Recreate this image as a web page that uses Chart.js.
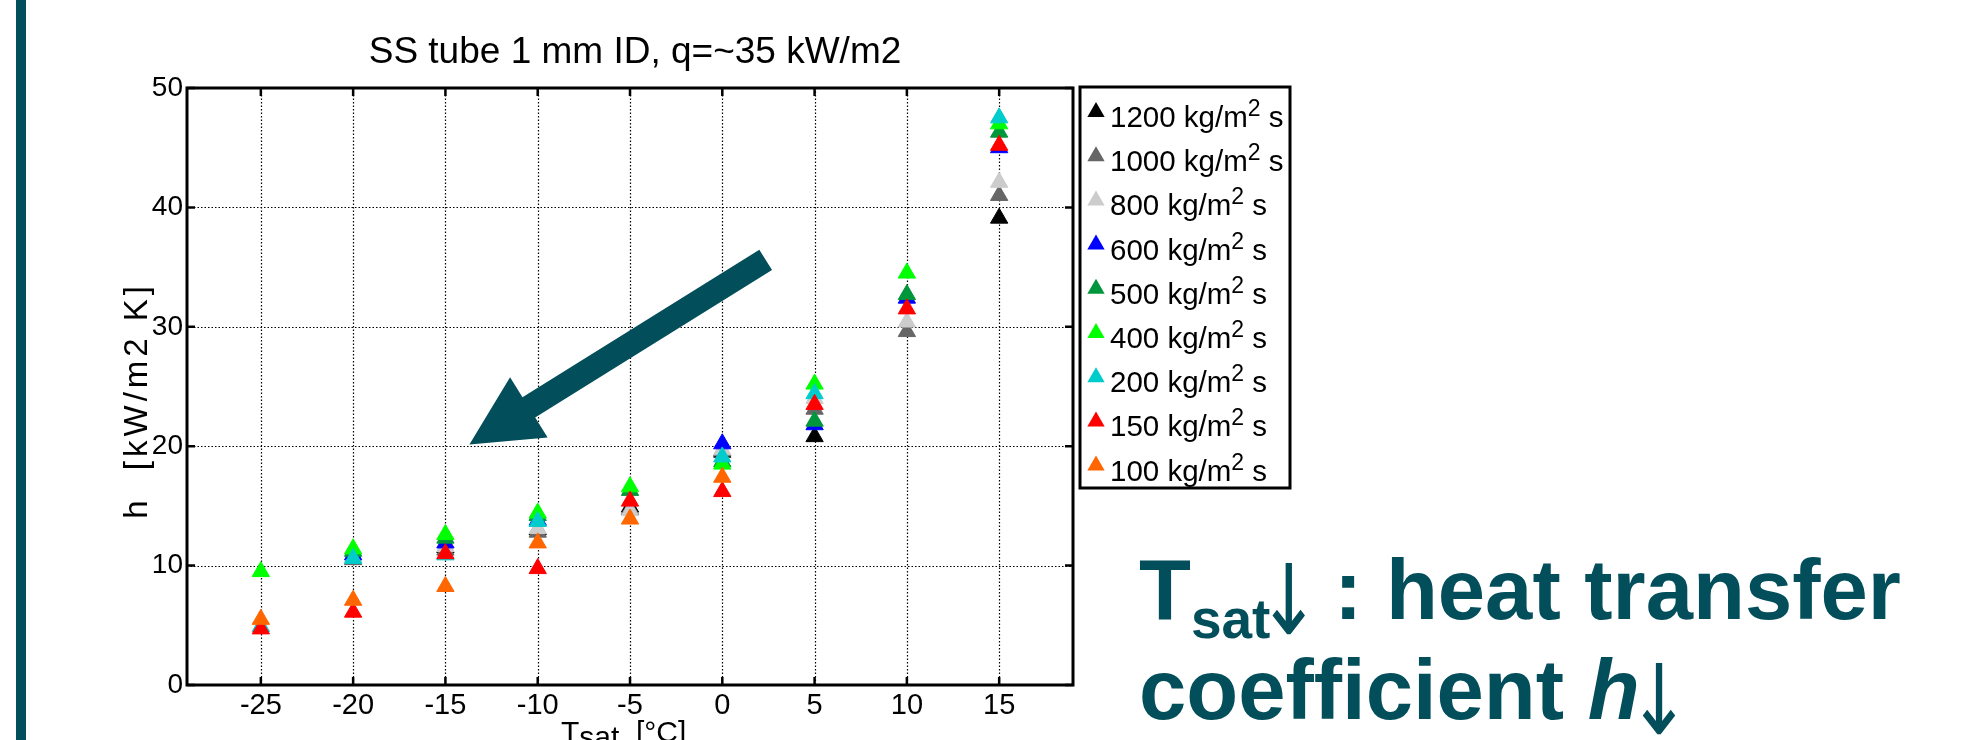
<!DOCTYPE html>
<html>
<head>
<meta charset="utf-8">
<script src="https://cdn.jsdelivr.net/npm/chart.js@4.4.0/dist/chart.umd.min.js"></script>
<style>
  body { margin: 0; background: #fff; }
  canvas { display: block; }
</style>
</head>
<body>
<canvas id="hChart" width="1963" height="740"></canvas>
<script>
// saturation temperatures [°C] and axis ticks
let tsat = [-25, -20, -15, -10, -5, 0, 5, 10, 15];
let xTicks = [-25, -20, -15, -10, -5, 0, 5, 10, 15];
let yTicks = [0, 10, 20, 30, 40, 50];

// mass flux labels [kg/m2 s]
let fluxLabels = ["1200", "1000", "800", "600", "500", "400", "200", "150", "100"];

// heat transfer coefficient h [kW/m2 K], one value per tsat (null = no point)
let h1200 = [null, null, 11.5, 13.0, 14.9, 19.5, 20.8, null, 39.1];
let h1000 = [null, 10.5, 11.3, 12.8, 14.7, 19.6, 23.1, 29.6, 41.0];
let h800  = [null, 10.7, 11.6, 13.1, 14.6, 19.7, 24.0, 30.4, 42.1];
let h600  = [null, 10.9, 11.9, 13.8, null, 20.2, 21.8, 32.4, 45.0];
let h500  = [null, 11.2, 12.3, 14.2, 16.3, 18.7, 22.1, 32.7, 46.3];
let h400  = [9.5, 11.4, 12.6, 14.4, 16.6, 18.5, 25.2, 34.5, 47.0];
let h200  = [4.9, 10.6, 10.9, 13.7, null, 19.1, 24.4, null, 47.5];
let h150  = [4.7, 6.1, 11.0, 9.75, 15.4, 16.2, 23.5, 31.5, 45.2];
let h100  = [5.5, 7.1, 8.25, 11.9, 13.9, 17.4, null, null, null];

let allSeries = [h1200, h1000, h800, h600, h500, h400, h200, h150, h100];
let seriesColors = ["#000000", "#666666", "#cccccc", "#0000ff", "#00963c", "#00ff00", "#00cccc", "#ff0000", "#ff6600"];

// annotation arrow, in data units
let arrowFrom = { x: 2.35, y: 35.6 };
let arrowTo = { x: -13.7, y: 20.15 };

let fontFam = '"Liberation Sans", Arial, sans-serif';
let teal = "#024e5a";

function triangle(ctx, x, y, r) {
    ctx.beginPath();
    ctx.moveTo(x, y - r);
    ctx.lineTo(x + 0.866 * r, y + 0.5 * r);
    ctx.lineTo(x - 0.866 * r, y + 0.5 * r);
    ctx.closePath();
    ctx.fill();
}

// thin down arrow glyph, sized so its ink is about 34 x 74 px
function downArrow(ctx, inkLeft, baseline) {
    ctx.save();
    ctx.font = '58px "DejaVu Sans", sans-serif';
    let m = ctx.measureText("\u2193");
    let inkH = m.actualBoundingBoxAscent + m.actualBoundingBoxDescent;
    let inkW = m.actualBoundingBoxLeft + m.actualBoundingBoxRight;
    ctx.translate(inkLeft, baseline + 17);
    ctx.scale(34 / inkW, 74 / inkH);
    ctx.fillText("\u2193", m.actualBoundingBoxLeft, -m.actualBoundingBoxDescent);
    ctx.restore();
}

let slideDecor = {
    id: "slideDecor",
    beforeDraw(chart) {
        let ctx = chart.ctx;
        ctx.save();
        ctx.fillStyle = "#fff";
        ctx.fillRect(0, 0, chart.width, chart.height);
        ctx.fillStyle = teal;
        ctx.fillRect(16, 0, 10, chart.height);
        ctx.restore();
    },
    beforeDatasetsDraw(chart) {
        let ctx = chart.ctx;
        let a = chart.chartArea;
        let xs = chart.scales.x;
        let ys = chart.scales.y;
        ctx.save();
        // dotted grid
        ctx.strokeStyle = "#000";
        ctx.lineWidth = 1.2;
        ctx.setLineDash([1.5, 2]);
        xTicks.forEach(v => {
            let px = Math.round(xs.getPixelForValue(v)) + 0.5;
            ctx.beginPath();
            ctx.moveTo(px, a.top);
            ctx.lineTo(px, a.bottom);
            ctx.stroke();
        });
        yTicks.forEach(v => {
            if (v <= ys.min || v >= ys.max) return;
            let py = Math.round(ys.getPixelForValue(v)) + 0.5;
            ctx.beginPath();
            ctx.moveTo(a.left, py);
            ctx.lineTo(a.right, py);
            ctx.stroke();
        });
        ctx.setLineDash([]);
        // box
        ctx.lineWidth = 3;
        ctx.strokeRect(a.left, a.top, a.right - a.left, a.bottom - a.top);
        // inward tick marks on all sides
        ctx.lineWidth = 2.5;
        xTicks.forEach(v => {
            let px = xs.getPixelForValue(v);
            ctx.beginPath();
            ctx.moveTo(px, a.bottom); ctx.lineTo(px, a.bottom - 8);
            ctx.moveTo(px, a.top); ctx.lineTo(px, a.top + 8);
            ctx.stroke();
        });
        yTicks.forEach(v => {
            let py = ys.getPixelForValue(v);
            ctx.beginPath();
            ctx.moveTo(a.left, py); ctx.lineTo(a.left + 8, py);
            ctx.moveTo(a.right, py); ctx.lineTo(a.right - 8, py);
            ctx.stroke();
        });
        ctx.restore();
    },
    afterDatasetsDraw(chart) {
        let ctx = chart.ctx;
        let xs = chart.scales.x;
        let ys = chart.scales.y;
        let tail = { x: xs.getPixelForValue(arrowFrom.x), y: ys.getPixelForValue(arrowFrom.y) };
        let tip = { x: xs.getPixelForValue(arrowTo.x), y: ys.getPixelForValue(arrowTo.y) };
        let dx = tail.x - tip.x, dy = tail.y - tip.y;
        let len = Math.sqrt(dx * dx + dy * dy);
        let ux = dx / len, uy = dy / len;
        let nx = -uy, ny = ux;
        let headLen = 70, headHalf = 35.5, shaftHalf = 12;
        let bx = tip.x + ux * headLen, by = tip.y + uy * headLen;
        ctx.save();
        ctx.fillStyle = teal;
        ctx.beginPath();
        ctx.moveTo(tip.x, tip.y);
        ctx.lineTo(bx + nx * headHalf, by + ny * headHalf);
        ctx.lineTo(bx + nx * shaftHalf, by + ny * shaftHalf);
        ctx.lineTo(tail.x + nx * shaftHalf, tail.y + ny * shaftHalf);
        ctx.lineTo(tail.x - nx * shaftHalf, tail.y - ny * shaftHalf);
        ctx.lineTo(bx - nx * shaftHalf, by - ny * shaftHalf);
        ctx.lineTo(bx - nx * headHalf, by - ny * headHalf);
        ctx.closePath();
        ctx.fill();
        ctx.restore();
    },
    afterDraw(chart) {
        let ctx = chart.ctx;
        let a = chart.chartArea;
        let midX = (a.left + a.right) / 2;
        ctx.save();
        ctx.fillStyle = "#000";
        ctx.textBaseline = "alphabetic";

        // title
        ctx.textAlign = "center";
        ctx.font = "37px " + fontFam;
        ctx.fillText("SS tube 1 mm ID, q=~35 kW/m2", midX + 5, 63);

        // x axis title (mostly cut off at the bottom)
        ctx.textAlign = "left";
        ctx.font = "30px " + fontFam;
        let xt = 561;
        ctx.fillText("T", xt, 742);
        xt += ctx.measureText("T").width;
        ctx.fillText("sat", xt, 747);
        xt += ctx.measureText("sat").width;
        ctx.fillText("  [°C]", xt, 742);

        // y axis title, spaced out like the original export
        ctx.save();
        ctx.translate(147, 282);
        ctx.rotate(-Math.PI / 2);
        ctx.textAlign = "right";
        ctx.font = "33px " + fontFam;
        ctx.letterSpacing = "4px";
        ctx.fillText("h  [kW/m2 K]", 0, 0);
        ctx.restore();

        // legend box
        let lx = a.right + 7, ly = a.top - 1, lw = 210, lh = 401;
        ctx.lineWidth = 3;
        ctx.strokeStyle = "#000";
        ctx.strokeRect(lx, ly, lw, lh);
        chart.data.datasets.forEach((ds, i) => {
            let base = ly + 40 + i * 44.2;
            ctx.fillStyle = ds.backgroundColor;
            triangle(ctx, lx + 16, base - 15, 10);
            ctx.fillStyle = "#000";
            ctx.textAlign = "left";
            let tx = lx + 30;
            ctx.font = "29.5px " + fontFam;
            let main = fluxLabels[i] + " kg/m";
            ctx.fillText(main, tx, base);
            tx += ctx.measureText(main).width;
            ctx.font = "23px " + fontFam;
            ctx.fillText("2", tx, base - 11);
            tx += ctx.measureText("2").width;
            ctx.font = "29.5px " + fontFam;
            ctx.fillText(" s", tx, base);
        });

        // slide statement
        ctx.fillStyle = teal;
        ctx.textAlign = "left";
        let sx = 1139, b1 = 619, b2 = 719;
        ctx.font = "bold 85px " + fontFam;
        ctx.fillText("T", sx, b1);
        let cx = sx + ctx.measureText("T").width;
        ctx.font = "bold 55px " + fontFam;
        ctx.fillText("sat", cx, b1 + 19);
        cx += ctx.measureText("sat").width;
        downArrow(ctx, cx + 1, b1);
        ctx.font = "bold 85px " + fontFam;
        ctx.fillText(": heat transfer", 1334, b1);
        ctx.fillText("coefficient ", sx, b2);
        cx = sx + ctx.measureText("coefficient ").width;
        ctx.font = "italic bold 85px " + fontFam;
        ctx.fillText("h", cx, b2);
        cx += ctx.measureText("h").width;
        downArrow(ctx, cx + 2, b2);
        ctx.restore();
    }
};

let datasets = fluxLabels.map((lab, i) => {
    let pts = [];
    tsat.forEach((t, j) => {
        if (allSeries[i][j] !== null) pts.push({ x: t, y: allSeries[i][j] });
    });
    return {
        label: lab + " kg/m² s",
        data: pts,
        order: fluxLabels.length - 1 - i,
        pointStyle: "triangle",
        pointRadius: 10,
        pointHoverRadius: 10,
        borderWidth: 1,
        backgroundColor: seriesColors[i],
        borderColor: seriesColors[i],
        showLine: false
    };
});

let ctx = document.getElementById("hChart").getContext("2d");
let hChart = new Chart(ctx, {
    type: "scatter",
    data: { datasets: datasets },
    options: {
        responsive: false,
        animation: false,
        devicePixelRatio: 1,
        layout: { padding: { left: 0, top: 88, right: 890, bottom: 0 } },
        plugins: {
            legend: { display: false },
            title: { display: false },
            tooltip: { enabled: false }
        },
        scales: {
            x: {
                type: "linear",
                min: -29,
                max: 19,
                grid: { display: false, drawTicks: false, tickLength: 0 },
                border: { display: false },
                ticks: {
                    color: "#000",
                    font: { family: fontFam, size: 29 },
                    padding: 4,
                    maxRotation: 0,
                    autoSkip: false,
                    callback: v => String(v)
                },
                afterBuildTicks: s => { s.ticks = xTicks.map(v => ({ value: v })); },
                afterFit: s => { s.height = 55; }
            },
            y: {
                type: "linear",
                min: 0,
                max: 50,
                grid: { display: false, drawTicks: false, tickLength: 0 },
                border: { display: false },
                ticks: {
                    color: "#000",
                    font: { family: fontFam, size: 28 },
                    padding: 4,
                    autoSkip: false,
                    callback: v => String(v)
                },
                afterBuildTicks: s => { s.ticks = yTicks.map(v => ({ value: v })); },
                afterFit: s => { s.width = 187; }
            }
        }
    },
    plugins: [slideDecor]
});
</script>
</body>
</html>
